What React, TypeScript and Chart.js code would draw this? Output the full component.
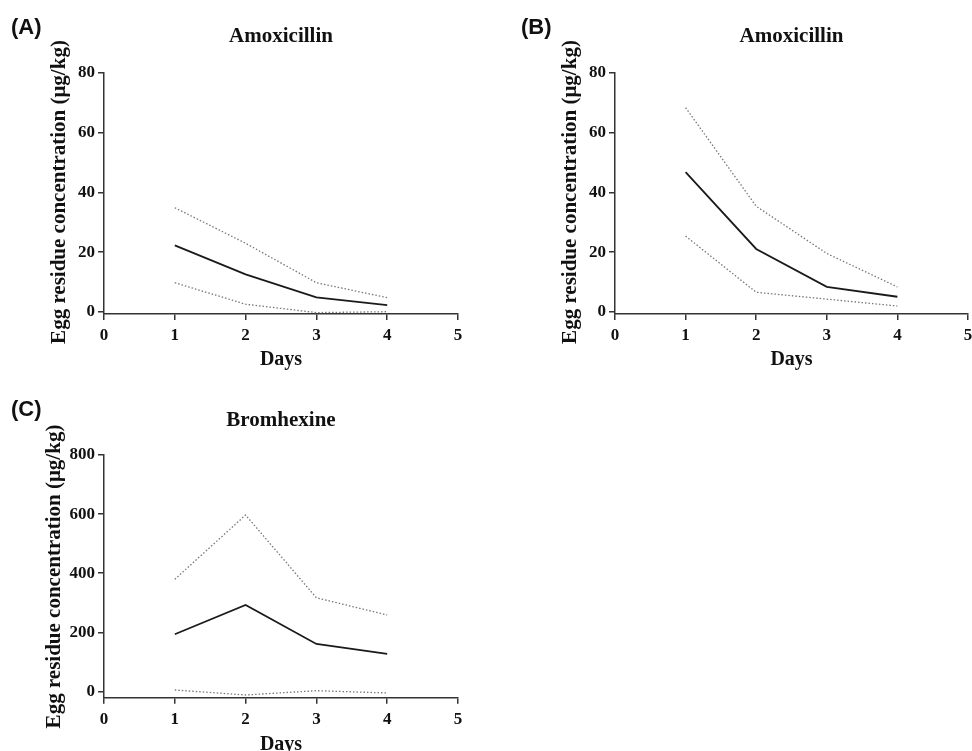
import React, { useEffect, useRef } from "react";
import { Chart, registerables } from "chart.js";

Chart.register(...registerables);

// ---- data ----
const days = [1, 2, 3, 4];
const xTicks = [0, 1, 2, 3, 4, 5];
const yLabel = "Egg residue concentration (μg/kg)";
const xLabel = "Days";

const amoxTicks = [0, 20, 40, 60, 80];
const amoxAMean = [22.3, 12.6, 4.9, 2.3];
const amoxAUpper = [34.9, 23.0, 9.8, 4.8];
const amoxALower = [9.8, 2.6, -0.2, 0.1];

const amoxBMean = [46.8, 21.1, 8.4, 5.1];
const amoxBUpper = [68.4, 35.4, 19.6, 8.4];
const amoxBLower = [25.4, 6.6, 4.3, 2.0];

const bromTicks = [0, 200, 400, 600, 800];
const bromMean = [193.5, 292.6, 160.7, 126.9];
const bromUpper = [379.6, 597, 317, 258.8];
const bromLower = [5, -11.8, 2.7, -5];

const SERIF = '"Liberation Serif", "Times New Roman", Times, serif';
const SANS = '"Liberation Sans", Arial, Helvetica, sans-serif';

const annotPlugin = {
  id: "annot",
  afterDraw(chart: any, _args: any, opts: any) {
    const ctx = chart.ctx;
    ctx.save();
    ctx.fillStyle = "#111";
    ctx.textBaseline = "middle";
    ctx.textAlign = "left";
    ctx.font = `bold 22px ${SANS}`;
    ctx.fillText(opts.letter, opts.letterX, opts.letterY);
    ctx.translate(opts.labelX, opts.labelY);
    ctx.rotate(-Math.PI / 2);
    ctx.textAlign = "center";
    ctx.font = `bold 21px ${SERIF}`;
    ctx.fillText(yLabel, 0, 0);
    ctx.restore();
  },
};

type PanelProps = {
  left: number;
  top: number;
  width: number;
  height: number;
  padRight: number;
  xHeight: number;
  daysPad: number;
  titlePadTop: number;
  titlePadBottom: number;
  title: string;
  letter: string;
  letterX: number;
  letterY: number;
  labelX: number;
  labelY: number;
  yMin: number;
  yMax: number;
  yTicks: number[];
  mean: number[];
  upper: number[];
  lower: number[];
};

function Panel(p: PanelProps) {
  const ref = useRef<HTMLCanvasElement>(null);
  useEffect(() => {
    const dotted = {
      borderColor: "#777",
      borderWidth: 1.3,
      borderDash: [1.5, 2],
      pointRadius: 0,
      fill: false,
      tension: 0,
    };
    const chart = new Chart(ref.current as HTMLCanvasElement, {
      type: "line",
      data: {
        datasets: [
          { ...dotted, data: days.map((d, i) => ({ x: d, y: p.upper[i] })) },
          { ...dotted, data: days.map((d, i) => ({ x: d, y: p.lower[i] })) },
          {
            data: days.map((d, i) => ({ x: d, y: p.mean[i] })),
            borderColor: "#1a1a1a",
            borderWidth: 1.8,
            pointRadius: 0,
            fill: false,
            tension: 0,
          },
        ],
      },
      options: {
        animation: false,
        responsive: false,
        events: [],
        layout: { padding: { left: 0, top: 0, right: p.padRight, bottom: 0 } },
        plugins: {
          legend: { display: false },
          tooltip: { enabled: false },
          title: {
            display: true,
            text: p.title,
            fullSize: false,
            color: "#111",
            font: { family: SERIF, size: 21, weight: "bold" },
            padding: { top: p.titlePadTop, bottom: p.titlePadBottom },
          },
          annot: {
            letter: p.letter,
            letterX: p.letterX,
            letterY: p.letterY,
            labelX: p.labelX,
            labelY: p.labelY,
          },
        } as any,
        scales: {
          x: {
            type: "linear",
            min: 0,
            max: 5,
            afterBuildTicks: (s: any) => {
              s.ticks = xTicks.map((v) => ({ value: v }));
            },
            afterFit: (s: any) => {
              s.height = p.xHeight;
            },
            grid: {
              drawOnChartArea: false,
              drawTicks: true,
              tickLength: 6,
              color: "#333",
              lineWidth: 1.5,
            },
            border: { display: true, color: "#333", width: 1.5 },
            ticks: {
              padding: 5.5,
              color: "#111",
              autoSkip: false,
              maxRotation: 0,
              font: { family: SERIF, size: 17, weight: "bold" },
            },
            title: {
              display: true,
              text: xLabel,
              color: "#111",
              font: { family: SERIF, size: 20, weight: "bold" },
              padding: { top: 0, bottom: p.daysPad },
            },
          },
          y: {
            type: "linear",
            min: p.yMin,
            max: p.yMax,
            afterBuildTicks: (s: any) => {
              s.ticks = p.yTicks.map((v) => ({ value: v }));
            },
            afterFit: (s: any) => {
              s.width = 104;
            },
            grid: {
              drawOnChartArea: false,
              drawTicks: true,
              tickLength: 6,
              color: "#333",
              lineWidth: 1.5,
            },
            border: { display: true, color: "#333", width: 1.5 },
            ticks: {
              padding: 3,
              color: "#111",
              autoSkip: false,
              font: { family: SERIF, size: 17, weight: "bold" },
            },
          },
        },
      } as any,
      plugins: [annotPlugin],
    });
    return () => chart.destroy();
  }, []);
  return (
    <canvas
      ref={ref}
      width={p.width}
      height={p.height}
      style={{
        position: "absolute",
        left: p.left,
        top: p.top,
        width: p.width,
        height: p.height,
      }}
    />
  );
}

export default function App() {
  return (
    <div
      style={{
        position: "absolute",
        left: 0,
        top: 0,
        width: 972,
        height: 751,
        overflow: "hidden",
        background: "#fff",
      }}
    >
      <Panel
        left={0}
        top={0}
        width={490}
        height={372}
        padRight={32}
        xHeight={58}
        daysPad={0}
        titlePadTop={24.4}
        titlePadBottom={23.4}
        title="Amoxicillin"
        letter="(A)"
        letterX={11}
        letterY={28}
        labelX={60}
        labelY={192}
        yMin={-0.67}
        yMax={80}
        yTicks={amoxTicks}
        mean={amoxAMean}
        upper={amoxAUpper}
        lower={amoxALower}
      />
      <Panel
        left={511}
        top={0}
        width={490}
        height={372}
        padRight={33}
        xHeight={58}
        daysPad={0}
        titlePadTop={24.4}
        titlePadBottom={23.4}
        title="Amoxicillin"
        letter="(B)"
        letterX={10}
        letterY={28}
        labelX={60}
        labelY={192}
        yMin={-0.67}
        yMax={80}
        yTicks={amoxTicks}
        mean={amoxBMean}
        upper={amoxBUpper}
        lower={amoxBLower}
      />
      <Panel
        left={0}
        top={380}
        width={490}
        height={380}
        padRight={32}
        xHeight={62.3}
        daysPad={3.5}
        titlePadTop={28.4}
        titlePadBottom={21.4}
        title="Bromhexine"
        letter="(C)"
        letterX={11}
        letterY={30}
        labelX={55}
        labelY={196.5}
        yMin={-21}
        yMax={800}
        yTicks={bromTicks}
        mean={bromMean}
        upper={bromUpper}
        lower={bromLower}
      />
    </div>
  );
}
